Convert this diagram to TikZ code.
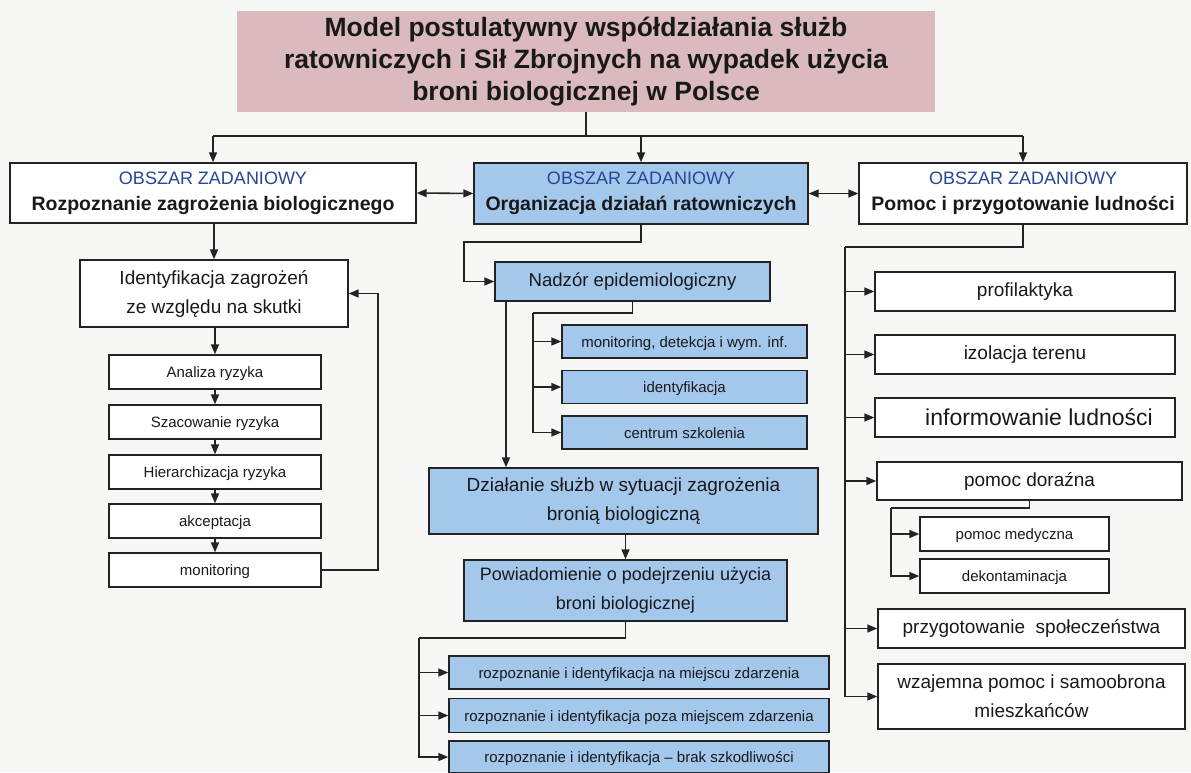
\documentclass[tikz,border=0pt]{standalone}
\usepackage{fontspec}
\setmainfont{Liberation Sans}
\usetikzlibrary{arrows.meta}

\definecolor{bgcol}{RGB}{247,247,245}
\definecolor{titlefill}{RGB}{219,186,191}
\definecolor{bluefill}{RGB}{164,199,236}
\definecolor{linec}{RGB}{35,35,35}
\definecolor{headblue}{RGB}{40,70,150}
\definecolor{txt}{RGB}{25,25,25}

\newcommand{\fsz}[2]{\fontsize{#1}{#2}\selectfont}

\tikzset{
  box/.style={draw=linec, line width=1.4pt, fill=white, inner sep=0pt,
    align=center, text=txt},
  bluebox/.style={box, fill=bluefill},
  areabox/.style={box, font=\bfseries\fsz{19.5}{26}},
  conn/.style={draw=linec, line width=1.6pt},
  arr/.style={conn, -{Triangle[length=10pt,width=8pt]}},
  darr/.style={conn, {Triangle[length=10pt,width=8pt]}-{Triangle[length=10pt,width=8pt]}},
  small/.style={font=\fsz{15}{18}, text height=14pt, text depth=3pt},
  mid/.style={font=\fsz{19}{29}},
}

\newcommand{\areahead}{{\mdseries\color{headblue}\fsz{18}{26}OBSZAR ZADANIOWY}}

\begin{document}
\begin{tikzpicture}[x=1pt,y=-1pt]
  \fill[bgcol] (0,0) rectangle (1191,772);
  \useasboundingbox (0,0) rectangle (1191,772);

  % title
  \node[fill=titlefill, inner sep=0pt, align=center, text=txt,
        minimum width=698pt, minimum height=101pt,
        font=\bfseries\fsz{26.5}{32}] (title) at (586,61.5)
    {Model postulatywny współdziałania służb\\
     ratowniczych i Sił Zbrojnych na wypadek użycia\\
     broni biologicznej w Polsce};

  % three task areas
  \node[areabox, minimum width=406pt, minimum height=60pt] (L) at (213,193)
    {\areahead\\Rozpoznanie zagrożenia biologicznego};
  \node[areabox, fill=bluefill, minimum width=334pt, minimum height=61pt] (M) at (641,193.5)
    {\areahead\\Organizacja działań ratowniczych};
  \node[areabox, minimum width=328pt, minimum height=61pt] (R) at (1023,193.5)
    {\areahead\\Pomoc i przygotowanie ludności};

  % left column
  \node[box, mid, minimum width=268pt, minimum height=67pt] (I) at (214,293.5)
    {Identyfikacja zagrożeń\\ze względu na skutki};
  \node[box, small, minimum width=212pt, minimum height=34pt] (A1) at (215,372) {Analiza ryzyka};
  \node[box, small, minimum width=212pt, minimum height=34pt] (A2) at (215,422) {Szacowanie ryzyka};
  \node[box, small, minimum width=212pt, minimum height=34pt] (A3) at (215,472) {Hierarchizacja ryzyka};
  \node[box, small, minimum width=212pt, minimum height=34pt] (A4) at (215,521) {akceptacja};
  \node[box, small, minimum width=212pt, minimum height=34pt] (A5) at (215,570) {monitoring};

  % middle column
  \node[bluebox, font=\fsz{18.6}{22}, minimum width=275pt, minimum height=39pt] (N) at (632.5,281.5)
    {Nadzór epidemiologiczny};
  \node[bluebox, small, minimum width=245pt, minimum height=33pt] (S1) at (684.5,341.5)
    {monitoring, detekcja i wym. inf.};
  \node[bluebox, small, minimum width=245pt, minimum height=33pt] (S2) at (684.5,387)
    {identyfikacja};
  \node[bluebox, small, minimum width=245pt, minimum height=33pt] (S3) at (684.5,432.5)
    {centrum szkolenia};
  \node[bluebox, mid, minimum width=389pt, minimum height=66pt] (D) at (623.5,501)
    {Działanie służb w sytuacji zagrożenia\\bronią biologiczną};
  \node[bluebox, font=\fsz{18}{29}, minimum width=323pt, minimum height=61pt] (P) at (625.5,590.5)
    {Powiadomienie o podejrzeniu użycia\\broni biologicznej};
  \node[bluebox, small, minimum width=380pt, minimum height=33pt] (B1) at (639,672.5)
    {rozpoznanie i identyfikacja na miejscu zdarzenia};
  \node[bluebox, small, minimum width=380pt, minimum height=34pt] (B2) at (639,715.5)
    {rozpoznanie i identyfikacja poza miejscem zdarzenia};
  \node[bluebox, small, minimum width=380pt, minimum height=32pt] (B3) at (639,757)
    {rozpoznanie i identyfikacja – brak szkodliwości};

  % right column
  \node[box, mid, minimum width=300pt, minimum height=39pt] (X1) at (1025,291.5) {profilaktyka};
  \node[box, mid, minimum width=300pt, minimum height=39pt] (X2) at (1025,354.5) {izolacja terenu};
  \node[box, font=\fsz{23}{26}, minimum width=300pt, minimum height=39pt] (X3) at (1025,417.5)
    {\hspace*{28pt}informowanie ludności};
  \node[box, mid, minimum width=305pt, minimum height=38pt] (X4) at (1029.5,481) {pomoc doraźna};
  \node[box, small, minimum width=189pt, minimum height=34pt] (PM) at (1014.5,534) {pomoc medyczna};
  \node[box, small, minimum width=189pt, minimum height=34pt] (DK) at (1014.5,576) {dekontaminacja};
  \node[box, mid, minimum width=307pt, minimum height=39pt] (X5) at (1031.5,628.5)
    {przygotowanie \ społeczeństwa};
  \node[box, mid, minimum width=307pt, minimum height=65pt] (X6) at (1031.5,696.5)
    {wzajemna pomoc i samoobrona\\mieszkańców};

  % title distribution bar
  \draw[conn] (title.south) -- ++(0,24) coordinate (tb);
  \draw[conn] (tb -| L.north) -- (tb -| R.north);
  \draw[arr] (tb -| L.north) -- (L.north);
  \draw[arr] (tb -| M.north) -- (M.north);
  \draw[arr] (tb -| R.north) -- (R.north);

  % links between task areas
  \draw[darr] (L.east) -- (M.west);
  \draw[darr] (M.east) -- (R.west);

  % left chain
  \draw[arr] (I.north |- L.south) -- (I.north);
  \draw[arr] (I.south -| A1.north) -- (A1.north);
  \draw[arr] (A1) -- (A2);
  \draw[arr] (A2) -- (A3);
  \draw[arr] (A3) -- (A4);
  \draw[arr] (A4) -- (A5);
  \coordinate (fb) at (378,0);
  \draw[arr] (A5.east) -- (A5.east -| fb) -- (I.east -| fb) -- (I.east);

  % middle chain
  \coordinate (m1) at (464,242);
  \draw[arr] (M.south) |- (m1) |- (N.west);
  \coordinate (n1) at (533,313);
  \draw[conn] (N.south) |- (n1);
  \draw[arr] (n1) |- (S1.west);
  \draw[arr] (n1) |- (S2.west);
  \draw[arr] (n1) |- (S3.west);
  \coordinate (nd) at (506,0);
  \draw[arr] (N.south -| nd) -- (D.north -| nd);
  \draw[arr] (P.north |- D.south) -- (P.north);
  \coordinate (p1) at (419,638);
  \draw[conn] (P.south) |- (p1);
  \draw[arr] (p1) |- (B1.west);
  \draw[arr] (p1) |- (B2.west);
  \draw[arr] (p1) |- (B3.west);

  % right chain
  \coordinate (r1) at (845,247);
  \draw[conn] (R.south) |- (r1);
  \draw[arr] (r1) |- (X1.west);
  \draw[arr] (r1) |- (X2.west);
  \draw[arr] (r1) |- (X3.west);
  \draw[arr] (r1) |- (X4.west);
  \draw[arr] (r1) |- (X5.west);
  \draw[arr] (r1) |- (X6.west);
  \coordinate (q1) at (891,508);
  \draw[conn] (X4.south) |- (q1);
  \draw[arr] (q1) |- (PM.west);
  \draw[arr] (q1) |- (DK.west);
\end{tikzpicture}
\end{document}
